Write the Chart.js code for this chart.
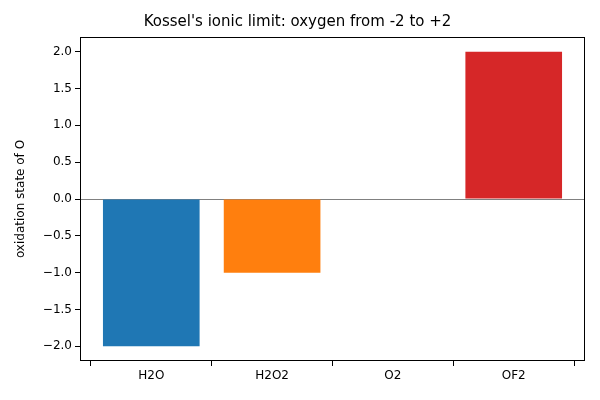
<!DOCTYPE html>
<html>
<head>
<script src="https://cdn.jsdelivr.net/npm/chart.js@4"></script>
<style>body{margin:0;background:#fff}</style>
</head>
<body>
<canvas id="c" width="600" height="400"></canvas>
<script>
const categories = ["H2O", "H2O2", "O2", "OF2"]
const oxidationStates = [-2, -1, 0, 2]
const barColors = ["#1f77b4", "#ff7f0e", "#2ca02c", "#d62728"]

const frame = {
    id: "frame",
    afterDraw(chart) {
        const a = chart.chartArea, ctx = chart.ctx
        ctx.save()
        ctx.strokeStyle = "#000"
        ctx.lineWidth = 1
        ctx.strokeRect(Math.round(a.left) + 0.5, Math.round(a.top) + 0.5, Math.round(a.width) - 1, Math.round(a.height) - 1)
        ctx.restore()
    }
}

new Chart(document.getElementById("c"), {
    type: "bar",
    data: {
        datasets: [{
            data: oxidationStates.map((v, i) => ({ x: i, y: v })),
            backgroundColor: barColors,
            categoryPercentage: 0.8,
            barPercentage: 1
        }]
    },
    options: {
        responsive: false,
        animation: false,
        layout: { padding: { right: 15, left: 10 } },
        plugins: {
            legend: { display: false },
            tooltip: { enabled: false },
            title: {
                display: true,
                text: "Kossel's ionic limit: oxygen from -2 to +2",
                color: "#000",
                font: { family: "DejaVu Sans", size: 15, weight: "normal" },
                padding: { top: 13, bottom: 6 }
            }
        },
        scales: {
            x: {
                type: "linear",
                min: -0.59,
                max: 3.59,
                offset: false,
                afterBuildTicks(s) { s.ticks = categories.map((c, i) => ({ value: i })) },
                grid: { color: "rgba(0,0,0,0)", tickColor: "#000", tickLength: 5 },
                border: { display: false },
                ticks: {
                    color: "#000",
                    font: { family: "DejaVu Sans", size: 12 },
                    callback: (v) => categories[v]
                },
                afterFit(s) { s.height = 39 }
            },
            y: {
                min: -2.2,
                max: 2.2,
                afterBuildTicks(s) {
                    s.ticks = []
                    for (let v = -2; v <= 2.001; v += 0.5) s.ticks.push({ value: Math.round(v * 10) / 10 })
                },
                grid: {
                    color: (c) => c.tick && c.tick.value === 0 ? "#808080" : "rgba(0,0,0,0)",
                    tickColor: "#000",
                    tickLength: 5
                },
                border: { display: false },
                ticks: {
                    color: "#000",
                    font: { family: "DejaVu Sans", size: 12 },
                    callback: (v) => v.toFixed(1).replace("-", "\u2212")
                },
                title: { display: true, text: "oxidation state of O", color: "#000", font: { family: "DejaVu Sans", size: 12 } },
                afterFit(s) { s.width = 70 }
            }
        }
    },
    plugins: [frame]
})
</script>
</body>
</html>
